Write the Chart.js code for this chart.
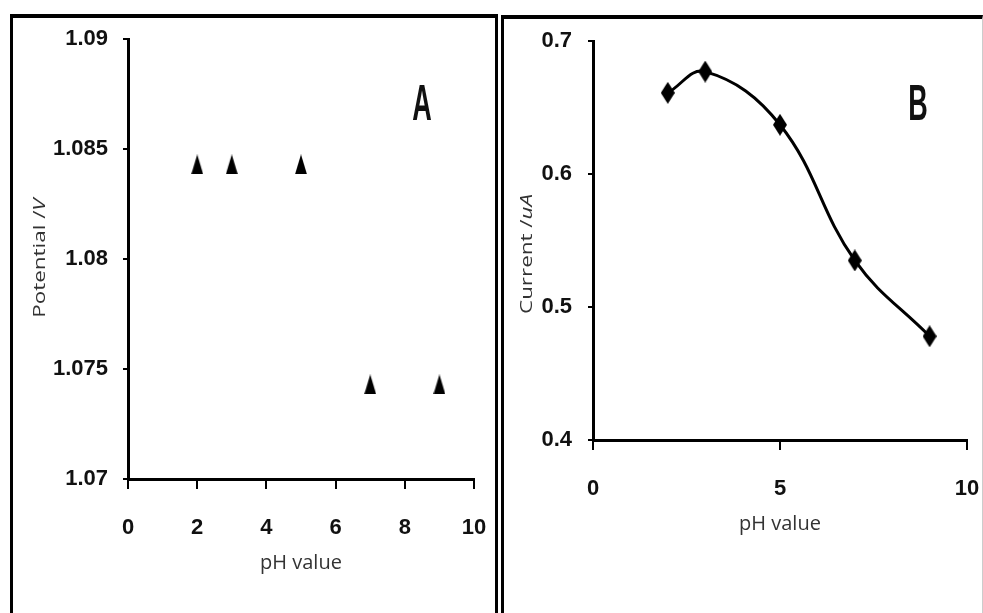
<!DOCTYPE html>
<html>
<head>
<meta charset="utf-8">
<script src="https://cdn.jsdelivr.net/npm/chart.js@4"></script>
<style>
  html, body { margin: 0; padding: 0; background: #fff; }
  body { width: 983px; height: 613px; position: relative; overflow: hidden; }
  .panel { position: absolute; box-sizing: border-box; }
  #panelA { left: 10px; top: 14px; width: 488px; height: 640px; border: 3px solid #000; border-top-width: 4px; }
  #panelB { left: 501px; top: 15px; width: 482px; height: 640px; border: 3px solid #000; border-top-width: 4px; border-right: 1px solid #ccc; }
  canvas { position: absolute; top: 0; }
  #chartA { left: 0; }
  #chartB { left: 500px; }
</style>
</head>
<body>
<div class="panel" id="panelA"></div>
<div class="panel" id="panelB"></div>
<canvas id="chartA" width="500" height="613"></canvas>
<canvas id="chartB" width="483" height="613"></canvas>
<script>
// panel A: peak potential vs pH
const phA = [2, 3, 5, 7, 9];
const potentialA = [1.0843, 1.0843, 1.0843, 1.0743, 1.0743];
const xTicksA = [0, 2, 4, 6, 8, 10];
const yTicksA = [1.07, 1.075, 1.08, 1.085, 1.09];

// panel B: peak current vs pH
const phB = [2, 3, 5, 7, 9];
const currentB = [0.661, 0.677, 0.637, 0.535, 0.478];
const xTicksB = [0, 5, 10];
const yTicksB = [0.4, 0.5, 0.6, 0.7];

const tickFont = { family: 'Liberation Sans', size: 22, weight: 'bold' };

function triangle(w, h) {
    const c = document.createElement('canvas');
    c.width = w; c.height = h;
    const g = c.getContext('2d');
    g.fillStyle = '#000';
    g.beginPath();
    g.moveTo(w / 2, 0); g.lineTo(w, h); g.lineTo(0, h);
    g.closePath(); g.fill();
    return c;
}

function diamond(w, h) {
    const c = document.createElement('canvas');
    c.width = w; c.height = h;
    const g = c.getContext('2d');
    g.fillStyle = '#000';
    g.beginPath();
    g.moveTo(w / 2, 0); g.lineTo(w, h / 2); g.lineTo(w / 2, h); g.lineTo(0, h / 2);
    g.closePath(); g.fill();
    return c;
}

function xAxis(ticks, height, titlePad, tickPad) {
    return {
        type: 'linear', min: ticks[0], max: ticks[ticks.length - 1],
        afterBuildTicks: s => { s.ticks = ticks.map(v => ({ value: v })); },
        afterFit: s => { s.height = height; s.paddingLeft = 0; s.paddingRight = 0; },
        border: { color: '#000', width: 3 },
        grid: { drawOnChartArea: false, drawTicks: true, tickLength: 10, color: '#000', lineWidth: 2 },
        ticks: { color: '#111', padding: tickPad, font: tickFont, maxRotation: 0, autoSkip: false, callback: v => String(v) },
        title: { display: true, text: 'pH value', color: '#333',
                 font: { family: 'Open Sans', size: 20 }, padding: { top: 0, bottom: titlePad } }
    };
}

function yAxis(ticks, width, tickPad) {
    return {
        type: 'linear', min: ticks[0], max: ticks[ticks.length - 1],
        afterBuildTicks: s => { s.ticks = ticks.map(v => ({ value: v })); },
        afterFit: s => { s.width = width; s.paddingTop = 0; s.paddingBottom = 0; },
        border: { color: '#000', width: 3 },
        grid: { drawOnChartArea: false, drawTicks: true, tickLength: 5, color: '#000', lineWidth: 2 },
        ticks: { color: '#111', padding: tickPad, font: tickFont, autoSkip: false, callback: v => String(+v.toFixed(4)) }
    };
}

// y title (with italic unit) and the panel letter, both stretched like the original
const panelText = {
    id: 'panelText',
    afterDraw(chart, args, o) {
        const ctx = chart.ctx;
        ctx.save();
        ctx.translate(o.titleX, o.titleY);
        ctx.rotate(-Math.PI / 2);
        ctx.scale(1.4, 1);
        ctx.fillStyle = '#333';
        ctx.textAlign = 'left';
        ctx.textBaseline = 'middle';
        const fnt = it => (it ? 'italic ' : '') + '16px "Open Sans"';
        let total = 0;
        o.title.forEach(p => { ctx.font = fnt(p.italic); total += ctx.measureText(p.text).width; });
        let x = -total / 2;
        o.title.forEach(p => {
            ctx.font = fnt(p.italic);
            ctx.fillText(p.text, x, 0);
            x += ctx.measureText(p.text).width;
        });
        ctx.restore();

        ctx.save();
        ctx.translate(o.letterX, o.letterY);
        ctx.scale(1, 1.85);
        ctx.font = 'bold 27px "Liberation Sans"';
        ctx.textAlign = 'center';
        ctx.textBaseline = 'middle';
        ctx.fillStyle = '#111';
        ctx.fillText(o.letter, 0, 0);
        ctx.restore();
    }
};

new Chart(document.getElementById('chartA'), {
    type: 'scatter',
    data: {
        datasets: [{
            data: phA.map((x, i) => ({ x: x, y: potentialA[i] })),
            pointStyle: triangle(12, 20),
            pointRadius: 10,
            showLine: false
        }]
    },
    options: {
        responsive: false, animation: false,
        layout: { padding: { left: 0, right: 26, top: 39, bottom: 0 } },
        scales: { x: xAxis(xTicksA, 134, 38, 26), y: yAxis(yTicksA, 128, 15) },
        plugins: {
            legend: { display: false }, tooltip: { enabled: false },
            panelText: { title: [{ text: 'Potential /' }, { text: 'V', italic: true }],
                         titleX: 40, titleY: 258, letter: 'A', letterX: 422, letterY: 106 }
        }
    },
    plugins: [panelText]
});

new Chart(document.getElementById('chartB'), {
    type: 'scatter',
    data: {
        datasets: [{
            data: phB.map((x, i) => ({ x: x, y: currentB[i] })),
            pointStyle: diamond(14, 22),
            pointRadius: 10,
            showLine: true,
            borderColor: '#000',
            borderWidth: 3,
            tension: 0.4
        }]
    },
    options: {
        responsive: false, animation: false,
        layout: { padding: { left: 0, right: 16, top: 41, bottom: 0 } },
        scales: { x: xAxis(xTicksB, 173, 77, 26), y: yAxis(yTicksB, 93, 16) },
        plugins: {
            legend: { display: false }, tooltip: { enabled: false },
            panelText: { title: [{ text: 'Current /' }, { text: 'uA', italic: true }],
                         titleX: 27, titleY: 254, letter: 'B', letterX: 418, letterY: 106 }
        }
    },
    plugins: [panelText]
});
</script>
</body>
</html>
